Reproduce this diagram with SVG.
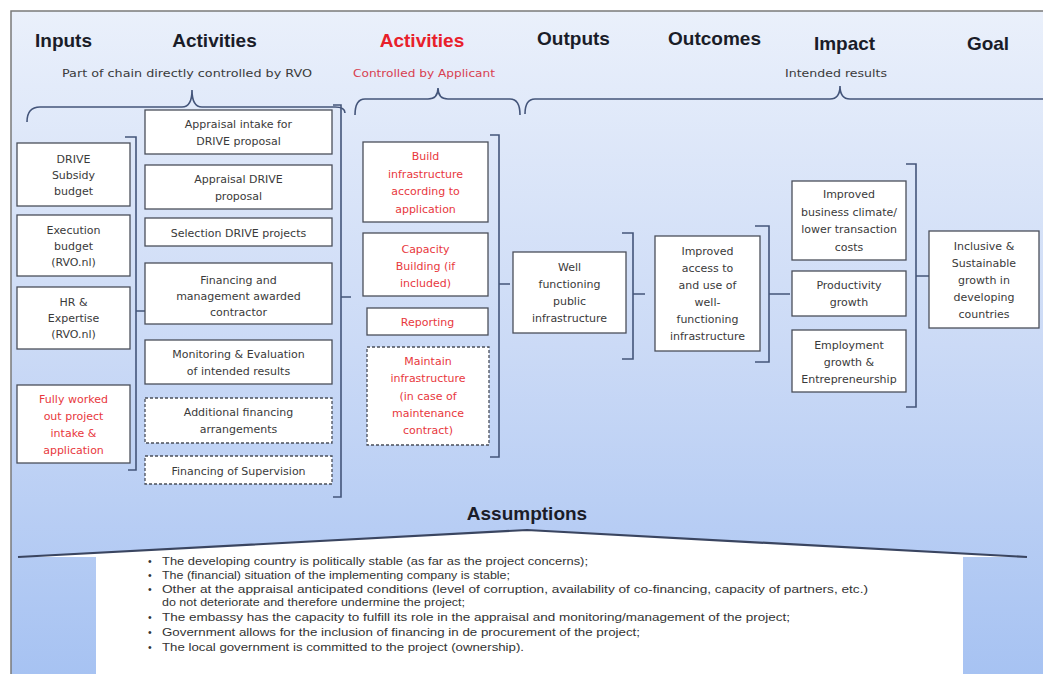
<svg xmlns="http://www.w3.org/2000/svg" width="1043" height="674" viewBox="0 0 1043 674">
<defs>
<linearGradient id="bg" x1="0" y1="0" x2="0" y2="1">
<stop offset="0" stop-color="#eaf0fb"/>
<stop offset="0.5" stop-color="#cbdaf6"/>
<stop offset="1" stop-color="#a6c2f2"/>
</linearGradient>
<style>
.box{fill:#fff;stroke:#4a4f5a;stroke-width:1.3}
.dash{stroke-dasharray:3 2}
.t{font-family:"DejaVu Sans",sans-serif;font-size:11px;fill:#3a3a3a;text-anchor:middle}
.r{fill:#e8383d}
.h{font-family:"Liberation Sans",Arial,sans-serif;font-weight:bold;font-size:19px;fill:#1a1c28;text-anchor:middle}
.s{font-family:"DejaVu Sans",sans-serif;font-size:11px;fill:#3a3a3a}
.br{fill:none;stroke:#44557a;stroke-width:1.6}
.a{font-family:"Liberation Sans",Arial,sans-serif;font-size:10.5px;fill:#333}
</style>
</defs>
<rect x="0" y="0" width="1043" height="674" fill="#fff"/>
<rect x="11" y="11" width="1040" height="670" fill="url(#bg)" stroke="#7a7a7a" stroke-width="1.5"/>

<g id="headers">
<text class="h" x="63.5" y="47">Inputs</text>
<text class="h" x="214.5" y="47">Activities</text>
<text class="h" x="422" y="47" style="fill:#e8202a">Activities</text>
<text class="h" x="573.5" y="45">Outputs</text>
<text class="h" x="714.5" y="45">Outcomes</text>
<text class="h" x="844.5" y="50">Impact</text>
<text class="h" x="988" y="50">Goal</text>
<text class="s" x="62" y="77" textLength="250" lengthAdjust="spacingAndGlyphs">Part of chain directly controlled by RVO</text>
<text class="s" x="353" y="77" textLength="142" lengthAdjust="spacingAndGlyphs" style="fill:#d84050">Controlled by Applicant</text>
<text class="s" x="785" y="77" textLength="102" lengthAdjust="spacingAndGlyphs">Intended results</text>
</g>

<g id="connectors">
<path class="br" d="M27,122 Q27,107 40,107 L182,107 Q192,107 192,90 Q192,107 202,107 L335,107 Q345,107 345,113"/>
<path class="br" d="M355,115 Q355,99 365,99 L428,99 Q438,99 438,88 Q438,99 448,99 L510,99 Q520,99 520,115"/>
<path class="br" d="M525,114 Q525,99 535,99 L830,99 Q840,99 840,86 Q840,99 850,99 L1043,99"/>
<path class="br" d="M125,137 H136 V470 H128 M136,311 H146"/>
<path class="br" d="M333,105 H341 V497 H333 M341,297 H351"/>
<path class="br" d="M490,135 H499 V457 H490 M499,284 H510"/>
<path class="br" d="M622,233 H633 V359 H622 M633,294 H645"/>
<path class="br" d="M755,226 H769 V362 H755 M769,294 H790"/>
<path class="br" d="M906,164 H916 V407 H906 M916,276 H929"/>
</g>

<g id="in-subsidy">
<rect class="box" x="17" y="143" width="113" height="63"/>
<text class="t" x="73.5" y="162.5">DRIVE</text>
<text class="t" x="73.5" y="178.5">Subsidy</text>
<text class="t" x="73.5" y="194.5">budget</text>
</g>
<g id="in-exec">
<rect class="box" x="17" y="215" width="113" height="61"/>
<text class="t" x="73.5" y="233.5">Execution</text>
<text class="t" x="73.5" y="249.5">budget</text>
<text class="t" x="73.5" y="265.5">(RVO.nl)</text>
</g>
<g id="in-hr">
<rect class="box" x="17" y="287" width="113" height="62"/>
<text class="t" x="73.5" y="306">HR &amp;</text>
<text class="t" x="73.5" y="322">Expertise</text>
<text class="t" x="73.5" y="338">(RVO.nl)</text>
</g>
<g id="in-application">
<rect class="box" x="17" y="385" width="113" height="78"/>
<text class="t r" x="73.5" y="402.5">Fully worked</text>
<text class="t r" x="73.5" y="419.5">out project</text>
<text class="t r" x="73.5" y="436.5">intake &amp;</text>
<text class="t r" x="73.5" y="453.5">application</text>
</g>

<g id="act-intake">
<rect class="box" x="145" y="110" width="187" height="44"/>
<text class="t" x="238.5" y="127.5">Appraisal intake for</text>
<text class="t" x="238.5" y="144.5">DRIVE proposal</text>
</g>
<g id="act-appraisal">
<rect class="box" x="145" y="165" width="187" height="44"/>
<text class="t" x="238.5" y="182.5">Appraisal DRIVE</text>
<text class="t" x="238.5" y="199.5">proposal</text>
</g>
<g id="act-selection">
<rect class="box" x="145" y="218" width="187" height="28"/>
<text class="t" x="238.5" y="237">Selection DRIVE projects</text>
</g>
<g id="act-financing">
<rect class="box" x="145" y="263" width="187" height="61"/>
<text class="t" x="238.5" y="283.5">Financing and</text>
<text class="t" x="238.5" y="299.5">management  awarded</text>
<text class="t" x="238.5" y="315.5">contractor</text>
</g>
<g id="act-monitoring">
<rect class="box" x="145" y="340" width="187" height="44"/>
<text class="t" x="238.5" y="357.5">Monitoring &amp; Evaluation</text>
<text class="t" x="238.5" y="374.5">of intended results</text>
</g>
<g id="act-additional">
<rect class="box dash" x="145" y="398" width="187" height="45"/>
<text class="t" x="238.5" y="416">Additional financing</text>
<text class="t" x="238.5" y="433">arrangements</text>
</g>
<g id="act-supervision">
<rect class="box dash" x="145" y="456" width="187" height="28"/>
<text class="t" x="238.5" y="475">Financing of Supervision</text>
</g>

<g id="app-build">
<rect class="box" x="363" y="142" width="125" height="80"/>
<text class="t r" x="425.5" y="160">Build</text>
<text class="t r" x="425.5" y="177.5">infrastructure</text>
<text class="t r" x="425.5" y="195">according to</text>
<text class="t r" x="425.5" y="212.5">application</text>
</g>
<g id="app-capacity">
<rect class="box" x="363" y="233" width="125" height="63"/>
<text class="t r" x="425.5" y="252.5">Capacity</text>
<text class="t r" x="425.5" y="269.5">Building (if</text>
<text class="t r" x="425.5" y="286.5">included)</text>
</g>
<g id="app-reporting">
<rect class="box" x="367" y="308" width="121" height="27"/>
<text class="t r" x="427.5" y="326">Reporting</text>
</g>
<g id="app-maintain">
<rect class="box dash" x="367" y="347" width="122" height="98"/>
<text class="t r" x="428" y="365">Maintain</text>
<text class="t r" x="428" y="382">infrastructure</text>
<text class="t r" x="428" y="399.5">(in case of</text>
<text class="t r" x="428" y="417">maintenance</text>
<text class="t r" x="428" y="434">contract)</text>
</g>

<g id="output">
<rect class="box" x="513" y="252" width="113" height="81"/>
<text class="t" x="569.5" y="270.5">Well</text>
<text class="t" x="569.5" y="287.5">functioning</text>
<text class="t" x="569.5" y="304.5">public</text>
<text class="t" x="569.5" y="321.5">infrastructure</text>
</g>

<g id="outcome">
<rect class="box" x="655" y="236" width="105" height="115"/>
<text class="t" x="707.5" y="255">Improved</text>
<text class="t" x="707.5" y="272">access to</text>
<text class="t" x="707.5" y="289">and use of</text>
<text class="t" x="707.5" y="306">well-</text>
<text class="t" x="707.5" y="323">functioning</text>
<text class="t" x="707.5" y="340">infrastructure</text>
</g>

<g id="imp-business">
<rect class="box" x="792" y="181" width="114" height="79"/>
<text class="t" x="849" y="198">Improved</text>
<text class="t" x="849" y="215.5">business climate/</text>
<text class="t" x="849" y="233">lower transaction</text>
<text class="t" x="849" y="250.5">costs</text>
</g>
<g id="imp-productivity">
<rect class="box" x="792" y="271" width="114" height="45"/>
<text class="t" x="849" y="289">Productivity</text>
<text class="t" x="849" y="306">growth</text>
</g>
<g id="imp-employment">
<rect class="box" x="792" y="330" width="114" height="62"/>
<text class="t" x="849" y="348.5">Employment</text>
<text class="t" x="849" y="365.5">growth &amp;</text>
<text class="t" x="849" y="382.5">Entrepreneurship</text>
</g>

<g id="goal">
<rect class="box" x="929" y="231" width="110" height="97"/>
<text class="t" x="984" y="249.5">Inclusive &amp;</text>
<text class="t" x="984" y="266.5">Sustainable</text>
<text class="t" x="984" y="283.5">growth in</text>
<text class="t" x="984" y="300.5">developing</text>
<text class="t" x="984" y="317.5">countries</text>
</g>

<g id="assumptions">
<text class="h" x="527" y="520">Assumptions</text>
<polygon points="18,557 527,530 1027,557 963,557 963,674 96,674 96,557" fill="#fff"/>
<polyline points="18,557 527,530 1027,557" fill="none" stroke="#3a4560" stroke-width="2.2" stroke-linejoin="round"/>
<g class="a">
<text x="148" y="565">•</text>
<text x="162" y="565" textLength="426" lengthAdjust="spacingAndGlyphs">The developing  country is politically stable (as far  as the project concerns);</text>
<text x="148" y="579">•</text>
<text x="162" y="579" textLength="348" lengthAdjust="spacingAndGlyphs">The (financial)  situation of the implementing  company is stable;</text>
<text x="148" y="593">•</text>
<text x="162" y="593" textLength="706" lengthAdjust="spacingAndGlyphs">Other at the appraisal  anticipated conditions (level  of corruption,  availability  of co-financing,  capacity of partners, etc.)</text>
<text x="162" y="606" textLength="303" lengthAdjust="spacingAndGlyphs">do not deteriorate  and therefore  undermine  the project;</text>
<text x="148" y="621">•</text>
<text x="162" y="621" textLength="628" lengthAdjust="spacingAndGlyphs">The embassy has the capacity to fulfill  its role in the appraisal  and monitoring/management  of the project;</text>
<text x="148" y="636">•</text>
<text x="162" y="636" textLength="478" lengthAdjust="spacingAndGlyphs">Government  allows for the inclusion of financing  in de procurement  of the project;</text>
<text x="148" y="651">•</text>
<text x="162" y="651" textLength="362" lengthAdjust="spacingAndGlyphs">The local government  is committed to the project  (ownership).</text>
</g>
</g>
</svg>
